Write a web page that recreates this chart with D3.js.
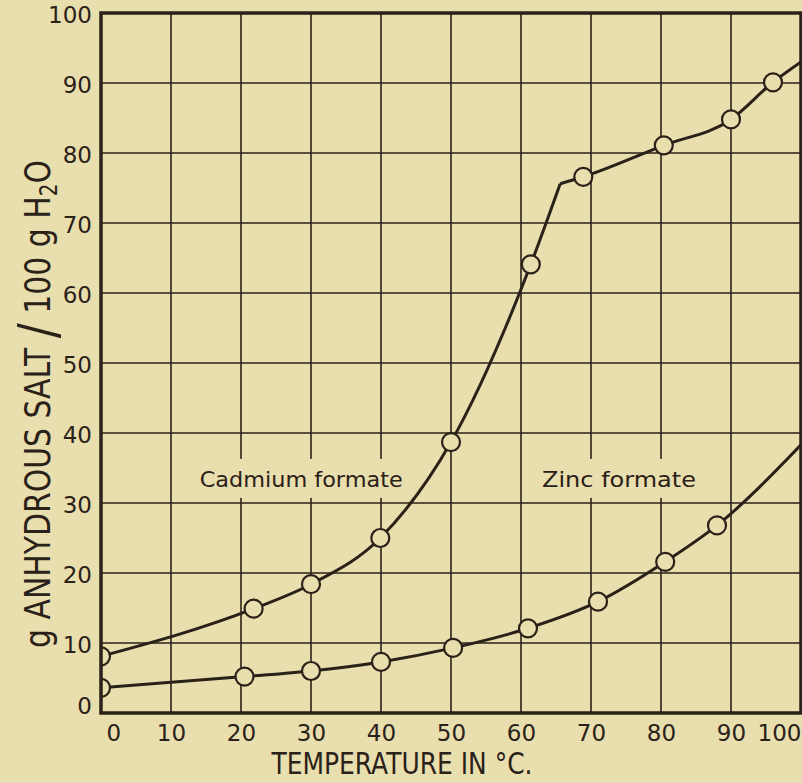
<!DOCTYPE html>
<html>
<head>
<meta charset="utf-8">
<script src="https://cdn.jsdelivr.net/npm/d3@7"></script>
<style>
  body { margin: 0; background: #e9dead; }
  svg { display: block; }
  text { font-family: "DejaVu Sans", sans-serif; fill: #2a2119; }
</style>
</head>
<body>
<svg id="chart" width="802" height="783"></svg>
<script>
// values: temperature in °C, g anhydrous salt per 100 g water
const tempTicks = [0, 10, 20, 30, 40, 50, 60, 70, 80, 90, 100];
const solTicks = [0, 10, 20, 30, 40, 50, 60, 70, 80, 90, 100];
const tickLabels = ["0", "10", "20", "30", "40", "50", "60", "70", "80", "90", "100"];

const cadmiumTemp = [0, 21.8, 30, 39.9, 50, 61.4, 68.9, 80.4, 90, 96];
const cadmiumSol = [8.1, 14.9, 18.4, 25, 38.7, 64.1, 76.6, 81.1, 84.8, 90.1];
// the cadmium curve has a kink (transition point) and runs off the right edge
const cadmiumBreak = [65.6, 75.6];
const cadmiumEnd = [100, 93];

const zincTemp = [0, 20.5, 30, 40, 50.3, 61, 71, 80.6, 88];
const zincSol = [3.6, 5.2, 6.0, 7.3, 9.3, 12.1, 15.9, 21.6, 26.8];
const zincEnd = [100, 38.3];

const seriesNames = ["Cadmium formate", "Zinc formate"];

const ink = "#2a2119";
const paper = "#e9dead";
const margin = { top: 13, left: 101 };
const width = 700,
  height = 700;

const svg = d3.select("#chart");
const g = svg.append("g").attr("transform", `translate(${margin.left},${margin.top})`);

const x = d3.scaleLinear().domain([0, 100]).range([0, width]);
const y = d3.scaleLinear().domain([0, 100]).range([height, 0]);

g.append("clipPath").attr("id", "plot").append("rect").attr("width", width).attr("height", height);

// grid
g.selectAll(".vgrid")
  .data(tempTicks)
  .join("line")
  .attr("x1", (d) => x(d))
  .attr("x2", (d) => x(d))
  .attr("y1", 0)
  .attr("y2", height)
  .attr("stroke", ink)
  .attr("stroke-width", 1.6);

g.selectAll(".hgrid")
  .data(solTicks)
  .join("line")
  .attr("x1", 0)
  .attr("x2", width)
  .attr("y1", (d) => y(d))
  .attr("y2", (d) => y(d))
  .attr("stroke", ink)
  .attr("stroke-width", 1.6);

// curve labels sit on a patch of paper, the grid is broken round them
const labelPos = [
  [14.1, 32.3],
  [63, 32.3],
];
const labelWidth = [203, 154];
seriesNames.forEach((name, i) => {
  const t = g
    .append("text")
    .attr("x", x(labelPos[i][0]))
    .attr("y", y(labelPos[i][1]))
    .attr("font-size", 22)
    .attr("font-weight", 500)
    .attr("textLength", labelWidth[i])
    .attr("lengthAdjust", "spacingAndGlyphs")
    .text(name);
  const b = t.node().getBBox();
  g.insert("rect", "text")
    .attr("x", b.x - 3)
    .attr("y", b.y - 8)
    .attr("width", b.width + 6)
    .attr("height", b.height + 14)
    .attr("fill", paper);
});

// curves
const line = d3
  .line()
  .x((d) => x(d[0]))
  .y((d) => y(d[1]))
  .curve(d3.curveMonotoneX);

const cadPts = cadmiumTemp.map((t, i) => [t, cadmiumSol[i]]);
const zincPts = zincTemp.map((t, i) => [t, zincSol[i]]);

const curves = [
  cadPts.filter((p) => p[0] < cadmiumBreak[0]).concat([cadmiumBreak]),
  [cadmiumBreak].concat(cadPts.filter((p) => p[0] > cadmiumBreak[0]), [cadmiumEnd]),
  zincPts.concat([zincEnd]),
];

const plot = g.append("g").attr("clip-path", "url(#plot)");

plot
  .selectAll(".curve")
  .data(curves)
  .join("path")
  .attr("d", line)
  .attr("fill", "none")
  .attr("stroke", ink)
  .attr("stroke-width", 3)
  .attr("stroke-linejoin", "round");

plot
  .selectAll(".pt")
  .data(cadPts.concat(zincPts))
  .join("circle")
  .attr("cx", (d) => x(d[0]))
  .attr("cy", (d) => y(d[1]))
  .attr("r", 9)
  .attr("fill", paper)
  .attr("stroke", ink)
  .attr("stroke-width", 2.2);

// frame
g.append("rect")
  .attr("width", width)
  .attr("height", height)
  .attr("fill", "none")
  .attr("stroke", ink)
  .attr("stroke-width", 3.5);

// tick labels
const xAxis = g
  .append("g")
  .attr("transform", `translate(0,${height})`)
  .call(
    d3.axisBottom(x)
      .tickValues(tempTicks)
      .tickFormat((d, i) => tickLabels[i])
      .tickSize(0)
      .tickPadding(12)
  );
xAxis.select(".domain").remove();
xAxis
  .selectAll("text")
  .attr("font-size", 23)
  .attr("font-family", "DejaVu Sans")
  .attr("fill", ink)
  .attr("text-anchor", (d) => (d === 0 ? "start" : d === 100 ? "end" : "middle"))
  .attr("dx", (d) => (d === 0 ? 5 : 0));

const yAxis = g
  .append("g")
  .call(
    d3.axisLeft(y)
      .tickValues(solTicks)
      .tickFormat((d, i) => tickLabels[i])
      .tickSize(0)
      .tickPadding(9)
  );
yAxis.select(".domain").remove();
yAxis
  .selectAll("text")
  .attr("font-size", 23)
  .attr("font-family", "DejaVu Sans")
  .attr("fill", ink)
  .attr("dy", (d) => (d === 0 ? "0.02em" : "0.4em"));

// axis titles
svg
  .append("text")
  .attr("x", 402)
  .attr("y", 774)
  .attr("text-anchor", "middle")
  .attr("font-size", 31)
  .attr("textLength", 261)
  .attr("lengthAdjust", "spacingAndGlyphs")
  .text("TEMPERATURE IN °C.");

const yTitle = svg
  .append("text")
  .attr("transform", "translate(50,648) rotate(-90)")
  .attr("font-size", 36)
  .attr("textLength", 488)
  .attr("lengthAdjust", "spacingAndGlyphs");
yTitle.append("tspan").text("g ANHYDROUS SALT ");
yTitle.append("tspan").attr("font-size", 54).attr("dy", 6).text("/");
yTitle.append("tspan").attr("dy", -6).text(" 100 g H");
yTitle.append("tspan").attr("font-size", 24).attr("dy", 7).text("2");
yTitle.append("tspan").attr("dy", -7).text("O");
</script>
</body>
</html>
